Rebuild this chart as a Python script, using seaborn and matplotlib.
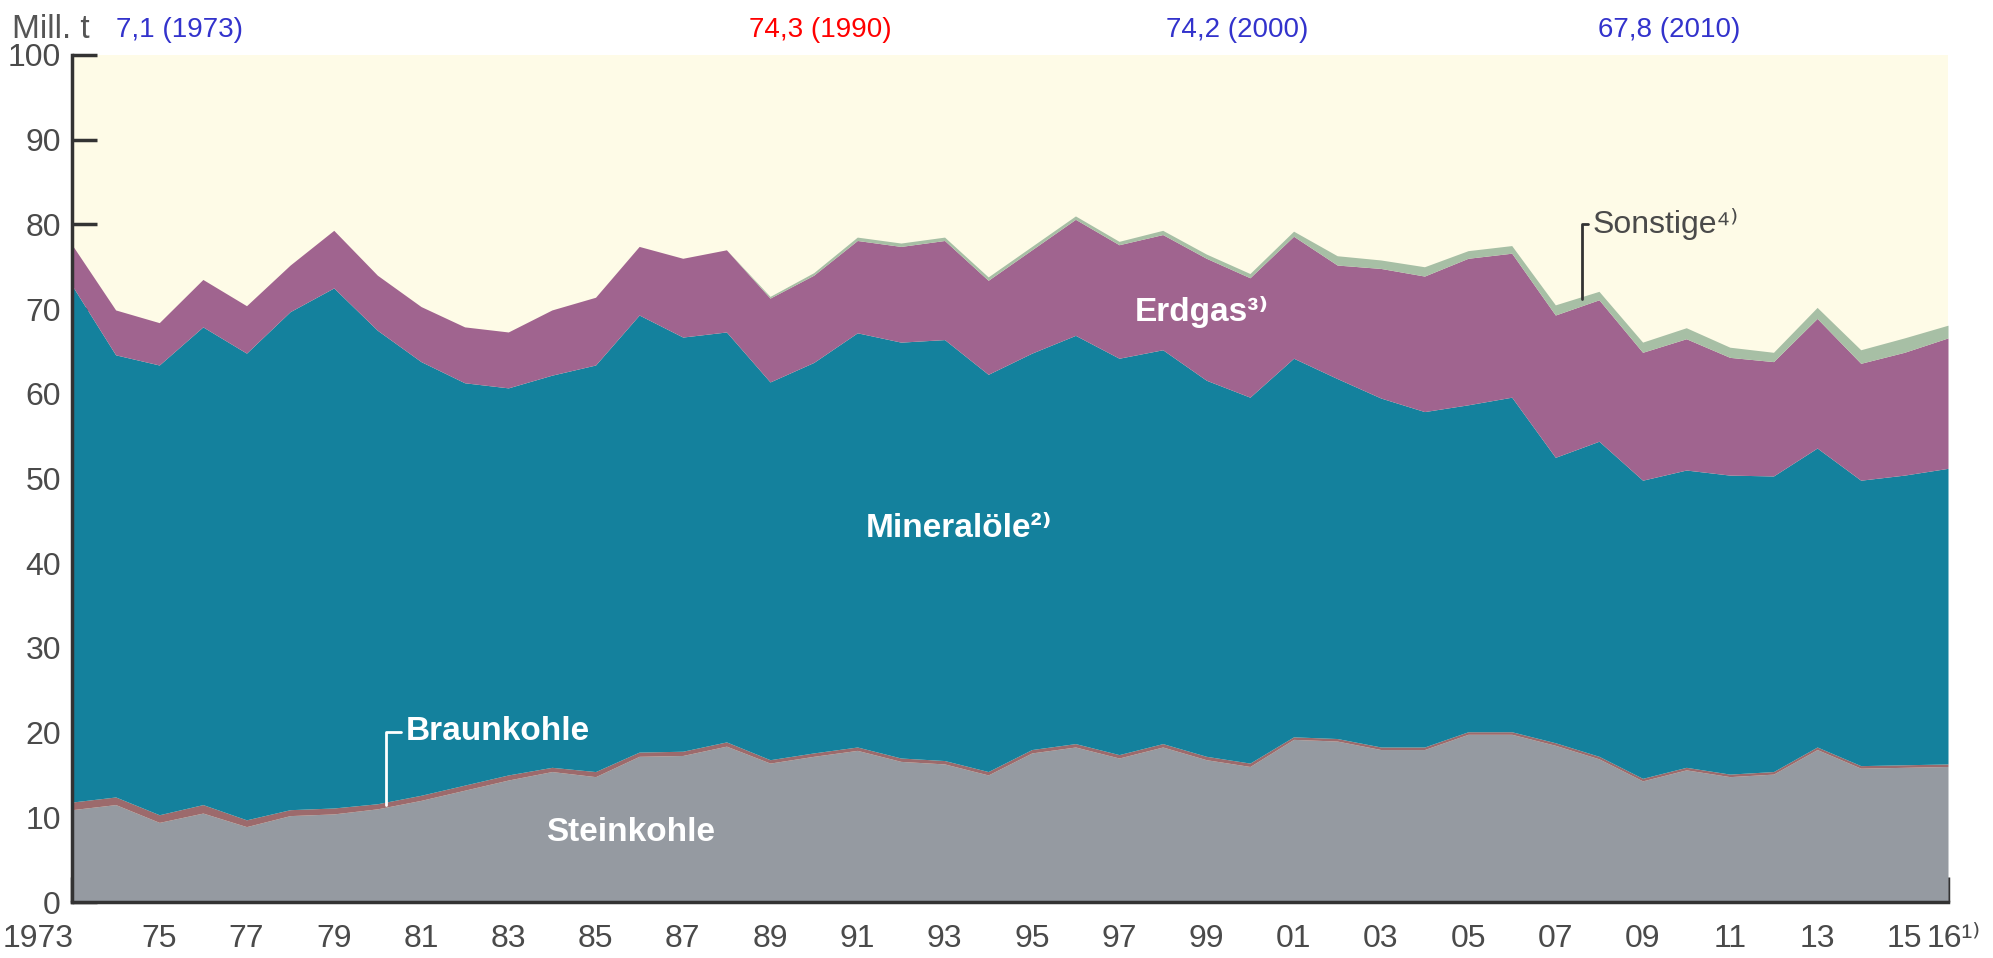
import numpy as np
import matplotlib
matplotlib.use('Agg')
import matplotlib.pyplot as plt
import matplotlib.transforms as mtransforms
import seaborn as sns

# Werte (Mill. t)
jahre = list(range(1973, 2017))
steinkohle = [10.9, 11.5, 9.4, 10.5, 8.9, 10.2, 10.4, 11.0, 12.0, 13.2, 14.4, 15.4, 14.8, 17.2, 17.3, 18.4,
              16.4, 17.2, 17.9, 16.6, 16.3, 15.0, 17.6, 18.3, 17.0, 18.3, 16.8, 16.0,
              19.2, 19.0, 18.0, 18.0, 19.8, 19.8, 18.5, 16.9, 14.3, 15.6, 14.8, 15.1, 18.0, 15.8, 15.9, 16.0]
braunkohle = [0.9, 0.9, 0.9, 1.0, 0.8, 0.7, 0.7, 0.6, 0.6, 0.6, 0.6, 0.5, 0.6, 0.5, 0.5, 0.5,
              0.4, 0.4, 0.4, 0.4, 0.4, 0.4, 0.4, 0.4, 0.4, 0.4, 0.4, 0.4,
              0.3, 0.3, 0.3, 0.3, 0.3, 0.3, 0.3, 0.3, 0.3, 0.3, 0.3, 0.3, 0.3, 0.3, 0.3, 0.3]
mineraloele = [61.0, 52.2, 53.1, 56.4, 55.1, 58.8, 61.4, 55.9, 51.2, 47.5, 45.7, 46.3, 48.0, 51.6, 48.9, 48.4,
               44.6, 46.1, 48.9, 49.1, 49.7, 46.9, 46.8, 48.2, 46.8, 46.5, 44.4, 43.2,
               44.7, 42.5, 41.2, 39.6, 38.6, 39.5, 33.7, 37.2, 35.2, 35.1, 35.3, 34.9, 35.3, 33.7, 34.2, 34.9]
erdgas = [4.8, 5.3, 5.0, 5.6, 5.6, 5.5, 6.8, 6.5, 6.5, 6.6, 6.6, 7.7, 8.0, 8.1, 9.3, 9.7,
          9.9, 10.3, 10.9, 11.3, 11.7, 11.1, 12.2, 13.7, 13.4, 13.6, 14.4, 14.1,
          14.4, 13.4, 15.3, 16.0, 17.3, 17.0, 16.8, 16.7, 15.1, 15.5, 13.9, 13.5, 15.3, 13.8, 14.5, 15.4]
sonstige = [0, 0, 0, 0, 0, 0, 0, 0, 0, 0, 0, 0, 0, 0, 0, 0,
            0.2, 0.3, 0.4, 0.4, 0.4, 0.4, 0.4, 0.4, 0.4, 0.5, 0.5, 0.5,
            0.6, 1.1, 1.0, 1.1, 0.9, 0.9, 1.2, 1.0, 1.2, 1.3, 1.2, 1.1, 1.3, 1.6, 1.7, 1.5]

farben = ['#959aa1', '#9c6a6c', '#14819d', '#a0648f', '#a7bfa5']

x_labels = []
for j in jahre:
    if j == 1973:
        x_labels.append('1973')
    elif j == 2016:
        x_labels.append('16¹⁾')
    elif j % 2 == 1:
        x_labels.append(f'{j % 100:02d}')
    else:
        x_labels.append('')

# Jahreswerte oben (Summe)
summen_text = ['7,1 (1973)', '74,3 (1990)', '74,2 (2000)', '67,8 (2010)']
summen_x = [1974.0, 1990.15, 1999.7, 2009.6]
summen_farbe = ['#3333cc', '#ff0000', '#3333cc', '#3333cc']

sns.set_style('ticks')
plt.rcParams['font.family'] = ['Liberation Sans', 'DejaVu Sans']

fig = plt.figure(figsize=(19.93, 9.58), dpi=100)
ax = fig.add_axes([72 / 1993, 1 - 902 / 958, (1948 - 72) / 1993, (902 - 55) / 958])
ax.set_facecolor('#fefbe7')

ax.stackplot(jahre, steinkohle, braunkohle, mineraloele, erdgas, sonstige,
             colors=farben, linewidth=0)

ax.set_xlim(1973, 2016)
ax.set_ylim(0, 100)
sns.despine(ax=ax)
for s in ['left', 'bottom']:
    ax.spines[s].set_linewidth(2.5)
    ax.spines[s].set_color('#333333')

ax.set_xticks(jahre)
ax.set_xticklabels(x_labels)
ax.set_yticks(range(0, 101, 10))
ax.tick_params(axis='x', direction='in', length=18, width=2.5, color='#333333',
               labelsize=23, labelcolor='#4a4a4a', pad=16)
ax.tick_params(axis='y', direction='in', length=18, width=2.5, color='#333333',
               labelsize=23, labelcolor='#4a4a4a', pad=8)

# erste und letzte Jahresbeschriftung leicht verschieben
lbls = ax.get_xticklabels()
lbls[0].set_horizontalalignment('right')
lbls[0].set_transform(lbls[0].get_transform() + mtransforms.ScaledTranslation(2 / 100, 0, fig.dpi_scale_trans))
lbls[-1].set_transform(lbls[-1].get_transform() + mtransforms.ScaledTranslation(6 / 100, 0, fig.dpi_scale_trans))

fig.text(12 / 1993, 1 - 30 / 958, 'Mill. t', fontsize=24, color='#555555', va='center', ha='left')

trans = mtransforms.blended_transform_factory(ax.transData, fig.transFigure)
for t, xv, c in zip(summen_text, summen_x, summen_farbe):
    ha = 'left' if t.endswith('(1973)') else 'center'
    ax.text(xv, 1 - 30 / 958, t, transform=trans, fontsize=20, color=c, ha=ha, va='center')

# Beschriftungen in der Fläche
ax.text(1991.2, 44.1, 'Mineralöle²⁾', color='white', fontsize=24, fontweight='bold', va='center', ha='left')
ax.text(1997.35, 69.7, 'Erdgas³⁾', color='white', fontsize=24, fontweight='bold', va='center', ha='left')
ax.text(1980.66, 20.1, 'Braunkohle', color='white', fontsize=24, fontweight='bold', va='center', ha='left')
ax.text(1983.87, 8.2, 'Steinkohle', color='white', fontsize=24, fontweight='bold', va='center', ha='left')
ax.text(2007.85, 80.1, 'Sonstige⁴⁾', color='#4a4a4a', fontsize=23, va='center', ha='left')

ax.plot([1980.2, 1980.2, 1980.55], [11.5, 20.1, 20.1], color='white', linewidth=2)
ax.plot([2007.6, 2007.6, 2007.75], [71.2, 80.1, 80.1], color='#333333', linewidth=2)

fig.savefig('out.png', dpi=100)
